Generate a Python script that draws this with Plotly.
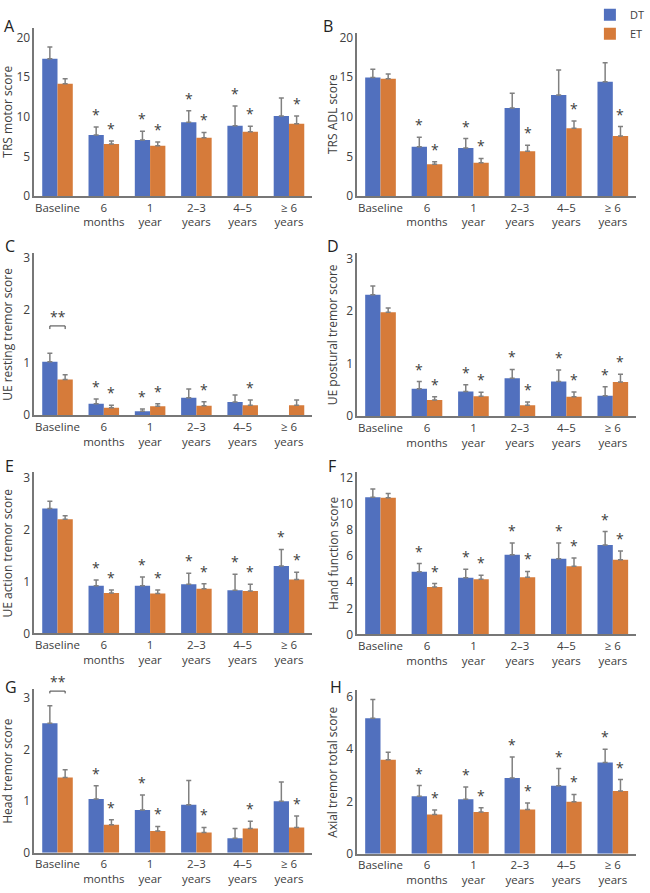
import plotly.graph_objects as go

categories = ["Baseline", "6<br>months", "1<br>year", "2–3<br>years", "4–5<br>years", "≥ 6<br>years"]
series_names = ["DT", "ET"]

# A: TRS motor score
a_dt = [17.3, 7.7, 7.05, 9.3, 8.85, 10.1]
a_dt_err = [1.5, 1.0, 1.1, 1.45, 2.5, 2.25]
a_et = [14.15, 6.55, 6.35, 7.35, 8.1, 9.1]
a_et_err = [0.65, 0.37, 0.45, 0.67, 0.7, 1.0]
a_dt_sig = [0, 1, 1, 1, 1, 0]
a_et_sig = [0, 1, 1, 1, 1, 1]

# B: TRS ADL score
b_dt = [14.95, 6.2, 6.05, 11.1, 12.75, 14.4]
b_dt_err = [1.05, 1.2, 1.2, 1.85, 3.15, 2.4]
b_et = [14.8, 4.0, 4.2, 5.65, 8.55, 7.55]
b_et_err = [0.6, 0.32, 0.53, 0.74, 0.9, 1.2]
b_dt_sig = [0, 1, 1, 0, 0, 0]
b_et_sig = [0, 1, 1, 1, 1, 1]

# C: UE resting tremor score
c_dt = [1.02, 0.22, 0.075, 0.33, 0.25, None]
c_dt_err = [0.16, 0.09, 0.045, 0.17, 0.135, None]
c_et = [0.68, 0.14, 0.17, 0.18, 0.19, 0.19]
c_et_err = [0.09, 0.05, 0.05, 0.075, 0.1, 0.1]
c_dt_sig = [0, 1, 1, 0, 0, 0]
c_et_sig = [0, 1, 1, 1, 1, 0]

# D: UE postural tremor score
d_dt = [2.31, 0.52, 0.47, 0.72, 0.66, 0.39]
d_dt_err = [0.17, 0.14, 0.13, 0.17, 0.22, 0.17]
d_et = [1.98, 0.31, 0.38, 0.21, 0.37, 0.65]
d_et_err = [0.08, 0.06, 0.075, 0.06, 0.09, 0.15]
d_dt_sig = [0, 1, 1, 1, 1, 1]
d_et_sig = [0, 1, 1, 1, 1, 1]

# E: UE action tremor score
e_dt = [2.41, 0.92, 0.92, 0.95, 0.835, 1.3]
e_dt_err = [0.14, 0.11, 0.17, 0.21, 0.305, 0.32]
e_et = [2.2, 0.78, 0.77, 0.86, 0.82, 1.04]
e_et_err = [0.07, 0.06, 0.07, 0.1, 0.13, 0.14]
e_dt_sig = [0, 1, 1, 1, 1, 1]
e_et_sig = [0, 1, 1, 1, 1, 1]

# F: Hand function score
f_dt = [10.52, 4.8, 4.35, 6.1, 5.8, 6.85]
f_dt_err = [0.63, 0.63, 0.65, 0.9, 1.2, 1.03]
f_et = [10.48, 3.63, 4.23, 4.38, 5.23, 5.73]
f_et_err = [0.32, 0.27, 0.3, 0.45, 0.62, 0.67]
f_dt_sig = [0, 1, 1, 1, 1, 1]
f_et_sig = [0, 1, 1, 1, 1, 1]

# G: Head tremor score
g_dt = [2.51, 1.04, 0.83, 0.93, 0.28, 1.0]
g_dt_err = [0.34, 0.26, 0.29, 0.47, 0.19, 0.37]
g_et = [1.46, 0.54, 0.42, 0.39, 0.47, 0.49]
g_et_err = [0.15, 0.1, 0.09, 0.1, 0.14, 0.22]
g_dt_sig = [0, 1, 1, 0, 0, 0]
g_et_sig = [0, 1, 1, 1, 1, 1]

# H: Axial tremor total score
h_dt = [5.19, 2.2, 2.09, 2.9, 2.6, 3.49]
h_dt_err = [0.72, 0.41, 0.46, 0.8, 0.66, 0.51]
h_et = [3.6, 1.5, 1.6, 1.69, 1.99, 2.4]
h_et_err = [0.29, 0.17, 0.16, 0.25, 0.28, 0.44]
h_dt_sig = [0, 1, 1, 1, 1, 1]
h_et_sig = [0, 1, 1, 1, 1, 1]

panel_letters = ["A", "B", "C", "D", "E", "F", "G", "H"]
y_titles = ["TRS motor score", "TRS ADL score", "UE resting tremor score",
            "UE postural tremor score", "UE action tremor score", "Hand function score",
            "Head tremor score", "Axial tremor total score"]
panels_data = [
    (a_dt, a_dt_err, a_et, a_et_err, a_dt_sig, a_et_sig),
    (b_dt, b_dt_err, b_et, b_et_err, b_dt_sig, b_et_sig),
    (c_dt, c_dt_err, c_et, c_et_err, c_dt_sig, c_et_sig),
    (d_dt, d_dt_err, d_et, d_et_err, d_dt_sig, d_et_sig),
    (e_dt, e_dt_err, e_et, e_et_err, e_dt_sig, e_et_sig),
    (f_dt, f_dt_err, f_et, f_et_err, f_dt_sig, f_et_sig),
    (g_dt, g_dt_err, g_et, g_et_err, g_dt_sig, g_et_sig),
    (h_dt, h_dt_err, h_et, h_et_err, h_dt_sig, h_et_sig),
]
# baseline pairwise comparison brackets (**): panel index -> (bracket y, bracket foot y)
brackets = {2: (1.70, 1.64), 6: (3.135, 3.09)}

# ---- layout geometry (pixels) ----
W, H = 650, 893
# zero pixel, reference tick value, its pixel, axis top pixel, dtick
geom = [
    (189, 20, 27, 17, 5), (189, 20, 27, 22, 5),
    (413, 3, 252, 247, 1), (414, 3, 253, 247, 1),
    (636, 3, 477, 471, 1), (637, 12, 477, 471, 2),
    (860, 3, 702, 693, 1), (861, 6, 701, 694, 2),
]
xdom = [(35, 318), (364, 648)]
title_x = [8, 339]
letter_pos = [(2, 2), (327, 2), (3, 227), (331, 227), (3, 452), (332, 452), (3, 677), (334, 677)]

DT_COLOR = "#5170BE"
ET_COLOR = "#D67B3A"
TXT = "#404040"
AX = "#777777"
ERR = "#808080"
FONT = "Open Sans"

fig = go.Figure()
layout = {}
annotations = []
shapes = []
xs = list(range(len(categories)))
off = 0.165

for k, (dt, dte, et, ete, dsig, esig) in enumerate(panels_data):
    sfx = "" if k == 0 else str(k + 1)
    xa, ya = "x" + sfx, "y" + sfx
    col = k % 2
    zero, tv, tp, top, dtk = geom[k]
    ymax = tv * (zero - top) / (zero - tp)
    for name, vals, errs, color in ((series_names[0], dt, dte, DT_COLOR),
                                    (series_names[1], et, ete, ET_COLOR)):
        fig.add_trace(go.Bar(
            x=xs, y=vals, name=name, xaxis=xa, yaxis=ya,
            marker=dict(color=color, line=dict(width=0)),
            error_y=dict(type="data", array=errs, arrayminus=[0] * len(errs), symmetric=False,
                         color=ERR, thickness=1.5, width=2.5),
            showlegend=(k == 1), legendgroup=name,
        ))
    layout["xaxis" + sfx] = dict(
        domain=[xdom[col][0] / W, xdom[col][1] / W], anchor=ya,
        range=[-0.5, len(categories) - 0.5], tickmode="array", tickvals=xs, ticktext=categories,
        showline=True, linecolor=AX, linewidth=1.5, ticks="", showgrid=False, zeroline=False,
        tickfont=dict(size=11.5, color=TXT, family=FONT), fixedrange=True,
    )
    layout["yaxis" + sfx] = dict(
        domain=[1 - zero / H, 1 - top / H], anchor=xa, range=[0, ymax],
        tickmode="linear", tick0=0, dtick=dtk,
        showline=True, linecolor=AX, linewidth=1.5, ticks="", showgrid=False, zeroline=False,
        tickfont=dict(size=12, color=TXT, family=FONT), fixedrange=True,
    )
    # significance stars
    for i in xs:
        for sig, vals, errs, dx in ((dsig, dt, dte, -off), (esig, et, ete, off)):
            if sig[i] and vals[i] is not None:
                annotations.append(dict(
                    x=i + dx, y=vals[i] + errs[i], xref=xa, yref=ya, text="*",
                    showarrow=False, yanchor="bottom", yshift=1,
                    font=dict(size=14, color=TXT, family=FONT)))
    # y-axis title
    annotations.append(dict(
        x=title_x[col] / W, y=1 - (zero + top) / 2 / H, xref="paper", yref="paper",
        text=y_titles[k], textangle=-90, showarrow=False, xanchor="center", yanchor="middle",
        font=dict(size=12, color=TXT, family=FONT)))
    # panel letter
    lx, ly = letter_pos[k]
    annotations.append(dict(
        x=lx / W, y=1 - ly / H, xref="paper", yref="paper", text=panel_letters[k],
        showarrow=False, xanchor="left", yanchor="top",
        font=dict(size=16, color="#222222", family=FONT)))
    # bracket with ** label
    if k in brackets:
        by, bt = brackets[k]
        shapes.append(dict(
            type="path", xref=xa, yref=ya,
            path=f"M {-off},{bt} L {-off},{by} L {off},{by} L {off},{bt}",
            line=dict(color=TXT, width=1)))
        annotations.append(dict(
            x=0, y=by, xref=xa, yref=ya, text="**", showarrow=False,
            yanchor="bottom", yshift=-2, font=dict(size=14, color=TXT, family=FONT)))

fig.update_layout(
    **layout,
    width=W, height=H, margin=dict(l=0, r=0, t=0, b=0),
    paper_bgcolor="white", plot_bgcolor="white",
    barmode="group", bargap=0.34, bargroupgap=0,
    font=dict(family=FONT, color=TXT),
    annotations=annotations, shapes=shapes,
    legend=dict(x=601 / W, y=1 + 11 / H, xanchor="left", yanchor="top", bgcolor="rgba(0,0,0,0)",
                font=dict(size=11, color=TXT, family=FONT), itemwidth=30,
                tracegroupgap=0),
)
fig.write_html("out.html", config={"displayModeBar": False},
               post_script="document.body.style.margin='0';")
